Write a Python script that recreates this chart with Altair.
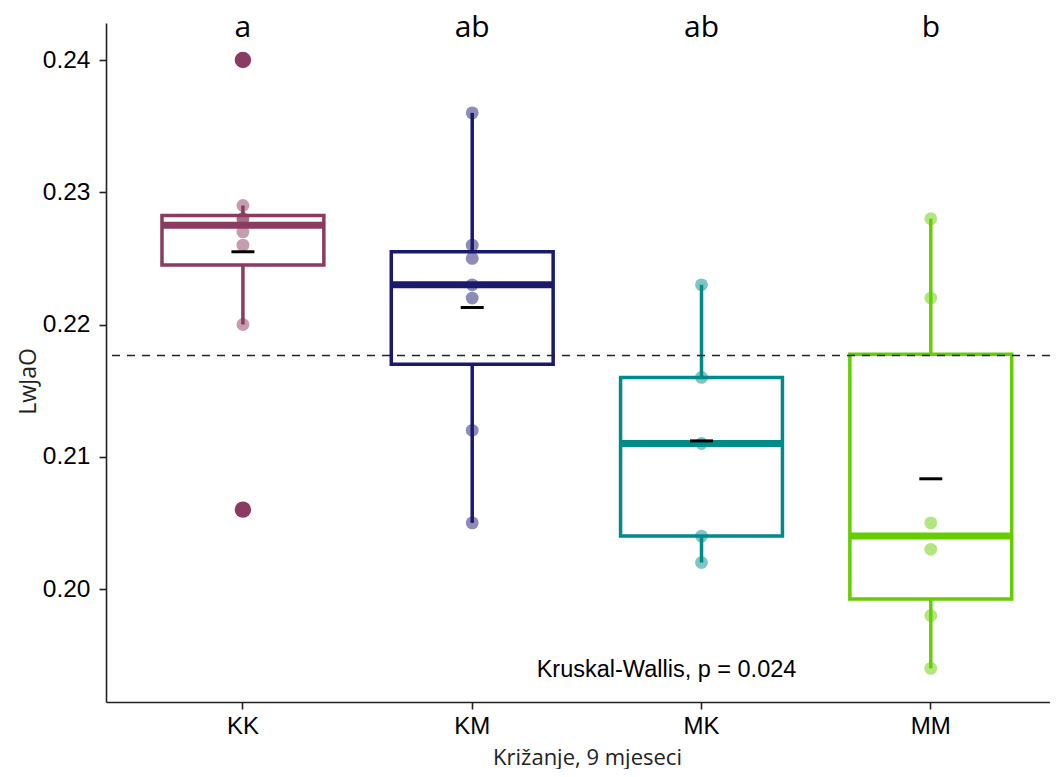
import altair as alt
import numpy as np
import pandas as pd

# ---- data ----
groups = ["KK", "KM", "MK", "MM"]
kk = [0.240, 0.229, 0.228, 0.228, 0.227, 0.226, 0.220, 0.206]
km = [0.236, 0.226, 0.225, 0.223, 0.222, 0.212, 0.205]
mk = [0.223, 0.216, 0.211, 0.204, 0.202]
mm = [0.228, 0.222, 0.205, 0.203, 0.198, 0.194]
letters = ["a", "ab", "ab", "b"]
letter_y = 0.24174
colors = ["#8B3A62", "#191970", "#008B8B", "#66CD00"]
test_label = "Kruskal-Wallis, p = 0.024"
test_y = 0.19337
y_ticks = [0.20, 0.21, 0.22, 0.23, 0.24]
y_domain = [0.191456, 0.242798]

series = [kk, km, mk, mm]

# ---- tables ----
pts = pd.DataFrame([{"group": g, "value": v} for g, vals in zip(groups, series) for v in vals])

stat_rows, whisk_rows, out_rows = [], [], []
for g, vals in zip(groups, series):
    a = np.array(vals)
    q1, med, q3 = np.percentile(a, [25, 50, 75])
    iqr = q3 - q1
    inside = a[(a >= q1 - 1.5 * iqr) & (a <= q3 + 1.5 * iqr)]
    lo, hi = inside.min(), inside.max()
    stat_rows.append({"group": g, "q1": q1, "med": med, "q3": q3, "mean": a.mean()})
    whisk_rows.append({"group": g, "a": lo, "b": q1})
    whisk_rows.append({"group": g, "a": q3, "b": hi})
    for v in a[(a < q1 - 1.5 * iqr) | (a > q3 + 1.5 * iqr)]:
        out_rows.append({"group": g, "value": v})
stats = pd.DataFrame(stat_rows)
whisk = pd.DataFrame(whisk_rows)
outs = pd.DataFrame(out_rows)
grand = pd.DataFrame({"m": [float(np.mean(np.concatenate([np.array(s) for s in series])))]})
lett = pd.DataFrame({"group": groups, "lab": letters, "y": [letter_y] * 4})
testdf = pd.DataFrame({"group": ["MK"], "lab": [test_label], "y": [test_y]})

# ---- shared scales / axes ----
xscale = alt.Scale(domain=groups, paddingInner=0.294, paddingOuter=0.2055, align=0.594)
xaxis = alt.Axis(
    labelFont="Liberation Sans", labelFontSize=24, labelColor="black", labelPadding=5,
    tickSize=7, tickWidth=1.6, tickColor="#222", domainColor="#222", domainWidth=1.6,
    labelAngle=0, grid=False,
    titleFont="Open Sans", titleFontSize=22, titleFontWeight="normal", titleColor="#222",
    titleX=481, titleY=62, titleBaseline="alphabetic",
)
yscale = alt.Scale(domain=y_domain, nice=False, zero=False)
yaxis = alt.Axis(
    values=y_ticks, format=".2f",
    labelFont="Liberation Sans", labelFontSize=24.5, labelColor="black", labelPadding=9,
    tickSize=7, tickWidth=1.6, tickColor="#222", domainColor="#222", domainWidth=1.6,
    grid=False,
    titleFont="Open Sans", titleFontSize=23, titleFontWeight="normal", titleColor="#222",
    titleX=-71, titleY=358, titleBaseline="alphabetic",
)
color = alt.Color("group:N", scale=alt.Scale(domain=groups, range=colors), legend=None)
stroke = alt.Stroke("group:N", scale=alt.Scale(domain=groups, range=colors), legend=None)


def X():
    return alt.X("group:N", scale=xscale, axis=xaxis, title="Križanje, 9 mjeseci")


def Y(f):
    return alt.Y(f"{f}:Q", scale=yscale, axis=yaxis, title="LwJaO")


whiskers = alt.Chart(whisk).mark_rule(strokeWidth=3.5).encode(
    x=X(), y=Y("a"), y2="b:Q", color=color)
boxes = alt.Chart(stats).mark_bar(fill="white", strokeWidth=3.5).encode(
    x=X(), y=Y("q1"), y2="q3:Q", stroke=stroke)
medians = alt.Chart(stats).mark_tick(size=162, thickness=7, opacity=1).encode(
    x=X(), y=Y("med"), color=color)
hline = alt.Chart(grand).mark_rule(strokeDash=[8, 7], strokeWidth=1.6, color="#222").encode(
    y=Y("m"))
points = alt.Chart(pts).mark_circle(size=165, opacity=0.5).encode(
    x=X(), y=Y("value"), color=color)
outliers = alt.Chart(outs).mark_circle(size=270, opacity=1).encode(
    x=X(), y=Y("value"), color=color)
means = alt.Chart(stats).mark_tick(size=23, thickness=3, color="black", opacity=1).encode(
    x=X(), y=Y("mean"))
letter_text = alt.Chart(lett).mark_text(
    font="Open Sans", fontSize=30, color="black", baseline="alphabetic").encode(
    x=X(), y=Y("y"), text="lab:N")
test_text = alt.Chart(testdf).mark_text(
    font="Liberation Sans", fontSize=23.5, color="black", baseline="alphabetic", dx=-35).encode(
    x=X(), y=Y("y"), text="lab:N")

chart = alt.layer(
    whiskers, boxes, medians, hline, points, means, outliers, letter_text, test_text
).properties(
    width=944, height=679,
    autosize=alt.AutoSizeParams(type="none"),
    padding={"left": 98, "top": 15, "right": 0, "bottom": 67},
).configure(background="white").configure_view(stroke=None)

chart.save("out.html", embed_options={"renderer": "svg", "actions": False})
